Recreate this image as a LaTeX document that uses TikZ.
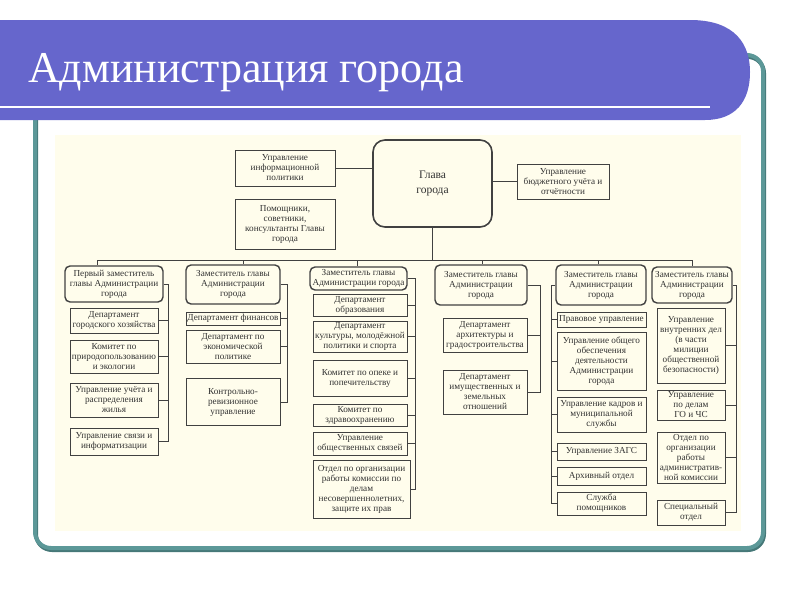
\documentclass[tikz,border=0pt]{standalone}
\usepackage{fontspec}
\setmainfont{Liberation Serif}
\definecolor{banner}{RGB}{102,102,204}
\definecolor{teal}{RGB}{92,152,152}
\definecolor{tealdark}{RGB}{70,120,120}
\definecolor{cream}{RGB}{255,253,236}
\definecolor{ln}{RGB}{65,65,65}
\definecolor{txt}{RGB}{50,50,50}
\begin{document}
\begin{tikzpicture}[x=1pt,y=-1pt,
  every node/.style={inner sep=0pt, align=center, font=\fontsize{9.2}{10}\selectfont, text=txt},
  box/.style={draw=ln, line width=0.8pt, fill=cream},
  dep/.style={draw=ln, line width=1.4pt, rounded corners=5pt, fill=cream},
  conn/.style={draw=ln, line width=0.8pt}]
\useasboundingbox (0,0) rectangle (800,600);
\fill[white] (0,0) rectangle (800,600);
% teal frame
\draw[tealdark, line width=4pt, rounded corners=16pt] (36,57) rectangle (764,550);
\draw[teal, line width=4pt, rounded corners=16pt] (35,55) rectangle (763,548);
% banner
\fill[banner] (0,20) -- (690,20) .. controls (736,20) and (750,45) .. (750,72) .. controls (750,102) and (735,120) .. (705,120) -- (0,120) -- cycle;
\draw[white, line width=2pt] (0,107) -- (710,107);
\node[anchor=base west, text=white, font=\fontsize{44}{44}\selectfont] (title) at (28,82) {Администрация города};
% cream area
\fill[cream] (55,135) rectangle (741,531);

% top level
\node[draw=ln, line width=1.6pt, rounded corners=12pt, fill=cream, minimum width=119pt, minimum height=87pt, font=\fontsize{11.5}{15}\selectfont] (glava) at (432.5,183.5) {Глава\\города};
\node[box, minimum width=100pt, minimum height=36pt] (info) at (285,168) {Управление\\информационной\\политики};
\node[box, minimum width=100pt, minimum height=50pt] (pom) at (285,224) {Помощники,\\советники,\\консультанты Главы\\города};
\node[box, minimum width=92pt, minimum height=35pt] (budget) at (563,181.5) {Управление\\бюджетного учёта и\\отчётности};
\draw[conn] (info.east) -- (info.east -| glava.west);
\draw[conn] (budget.west -| glava.east) -- (budget.west);

% deputies
\node[dep, minimum width=98pt, minimum height=36pt] (d1) at (114,284) {Первый заместитель\\главы Администрации\\города};
\node[dep, minimum width=94pt, minimum height=39pt] (d2) at (233,284.5) {Заместитель главы\\Администрации\\города};
\node[dep, minimum width=97pt, minimum height=23pt] (d3) at (358.5,278.5) {Заместитель главы\\Администрации города};
\node[dep, minimum width=92pt, minimum height=40pt] (d4) at (481,285) {Заместитель главы\\Администрации\\города};
\node[dep, minimum width=90pt, minimum height=40pt] (d5) at (601,285) {Заместитель главы\\Администрации\\города};
\node[dep, minimum width=80pt, minimum height=36pt] (d6) at (692,285) {Заместитель главы\\Администрации\\города};

\coordinate (s1) at (97,260);
\coordinate (s2) at (243,260);
\coordinate (s3) at (357,260);
\coordinate (s4) at (482,260);
\coordinate (s5) at (598,260);
\coordinate (s6) at (692,260);
\draw[conn] (glava.south) -- (glava.south |- s1);
\draw[conn] (s1) -- (s6);
\foreach \s/\d in {s1/d1,s2/d2,s3/d3,s4/d4,s5/d5,s6/d6} \draw[conn] (\s) -- (\s |- \d.north);

% column 1
\node[box, minimum width=88pt, minimum height=25pt] (c11) at (114,320.5) {Департамент\\городского хозяйства};
\node[box, minimum width=88pt, minimum height=33pt] (c12) at (114,356.5) {Комитет по\\природопользованию\\и экологии};
\node[box, minimum width=88pt, minimum height=34pt] (c13) at (114,400) {Управление учёта и\\распределения\\жилья};
\node[box, minimum width=88pt, minimum height=27pt] (c14) at (114,441.5) {Управление связи и\\информатизации};
% column 2
\node[box, minimum width=94pt, minimum height=13pt] (c21) at (233,318.5) {Департамент финансов};
\node[box, minimum width=94pt, minimum height=33pt] (c22) at (233,346.5) {Департамент по\\экономической\\политике};
\node[box, minimum width=94pt, minimum height=47pt] (c23) at (233,402) {Контрольно-\\ревизионное\\управление};
% column 3
\node[box, minimum width=94pt, minimum height=22pt] (c31) at (360,305) {Департамент\\образования};
\node[box, minimum width=94pt, minimum height=31pt] (c32) at (360,336.5) {Департамент\\культуры, молодёжной\\политики и спорта};
\node[box, minimum width=94pt, minimum height=36pt] (c33) at (360,378) {Комитет по опеке и\\попечительству};
\node[box, minimum width=94pt, minimum height=22pt] (c34) at (360,415) {Комитет по\\здравоохранению};
\node[box, minimum width=94pt, minimum height=23pt] (c35) at (360,443.5) {Управление\\общественных связей};
\node[box, minimum width=97pt, minimum height=58pt] (c36) at (361.5,489) {Отдел по организации\\работы комиссии по\\делам\\несовершеннолетних,\\защите их прав};
% column 4
\node[box, minimum width=84pt, minimum height=34pt] (c41) at (485,335) {Департамент\\архитектуры и\\градостроительства};
\node[box, minimum width=84pt, minimum height=44pt] (c42) at (485,392) {Департамент\\имущественных и\\земельных\\отношений};
% column 5
\node[box, minimum width=89pt, minimum height=15pt] (c51) at (601.5,319.5) {Правовое управление};
\node[box, minimum width=89pt, minimum height=58pt] (c52) at (601.5,361) {Управление общего\\обеспечения\\деятельности\\Администрации\\города};
\node[box, minimum width=89pt, minimum height=35pt] (c53) at (601.5,414.5) {Управление кадров и\\муниципальной\\службы};
\node[box, minimum width=89pt, minimum height=17pt] (c54) at (601.5,451.5) {Управление ЗАГС};
\node[box, minimum width=89pt, minimum height=18pt] (c55) at (601.5,476) {Архивный отдел};
\node[box, minimum width=89pt, minimum height=23pt] (c56) at (601.5,503.5) {Служба\\помощников};
% column 6
\node[box, minimum width=68pt, minimum height=75pt] (c61) at (691,345.5) {Управление\\внутренних дел\\(в части\\милиции\\общественной\\безопасности)};
\node[box, minimum width=68pt, minimum height=30pt] (c62) at (691,405) {Управление\\по делам\\ГО и ЧС};
\node[box, minimum width=68pt, minimum height=51pt] (c63) at (691,457.5) {Отдел по\\организации\\работы\\административ-\\ной комиссии};
\node[box, minimum width=68pt, minimum height=25pt] (c64) at (691,512.5) {Специальный\\отдел};

% brackets
\coordinate (b1) at (168,300);
\coordinate (b2) at (287,300);
\coordinate (b3) at (415,300);
\coordinate (b4) at (540,300);
\coordinate (b5) at (551,300);
\coordinate (b6) at (736,300);
\draw[conn] (d1.east) -- (d1.east -| b1) -- (b1 |- c14.east) -- (c14.east);
\foreach \c in {c11,c12,c13} \draw[conn] (\c.east) -- (\c.east -| b1);
\draw[conn] (d2.east) -- (d2.east -| b2) -- (b2 |- c23.east) -- (c23.east);
\foreach \c in {c21,c22} \draw[conn] (\c.east) -- (\c.east -| b2);
\draw[conn] (d3.east) -- (d3.east -| b3) -- (b3 |- c36.east) -- (c36.east);
\foreach \c in {c31,c32,c33,c34,c35} \draw[conn] (\c.east) -- (\c.east -| b3);
\draw[conn] (d4.east) -- (d4.east -| b4) -- (b4 |- c42.east) -- (c42.east);
\draw[conn] (c41.east) -- (c41.east -| b4);
\draw[conn] (d5.west) -- (d5.west -| b5) -- (b5 |- c56.west) -- (c56.west);
\foreach \c in {c51,c52,c53,c54,c55} \draw[conn] (\c.west) -- (\c.west -| b5);
\draw[conn] (d6.east) -- (d6.east -| b6) -- (b6 |- c64.east) -- (c64.east);
\foreach \c in {c61,c62,c63} \draw[conn] (\c.east) -- (\c.east -| b6);
\end{tikzpicture}
\end{document}
